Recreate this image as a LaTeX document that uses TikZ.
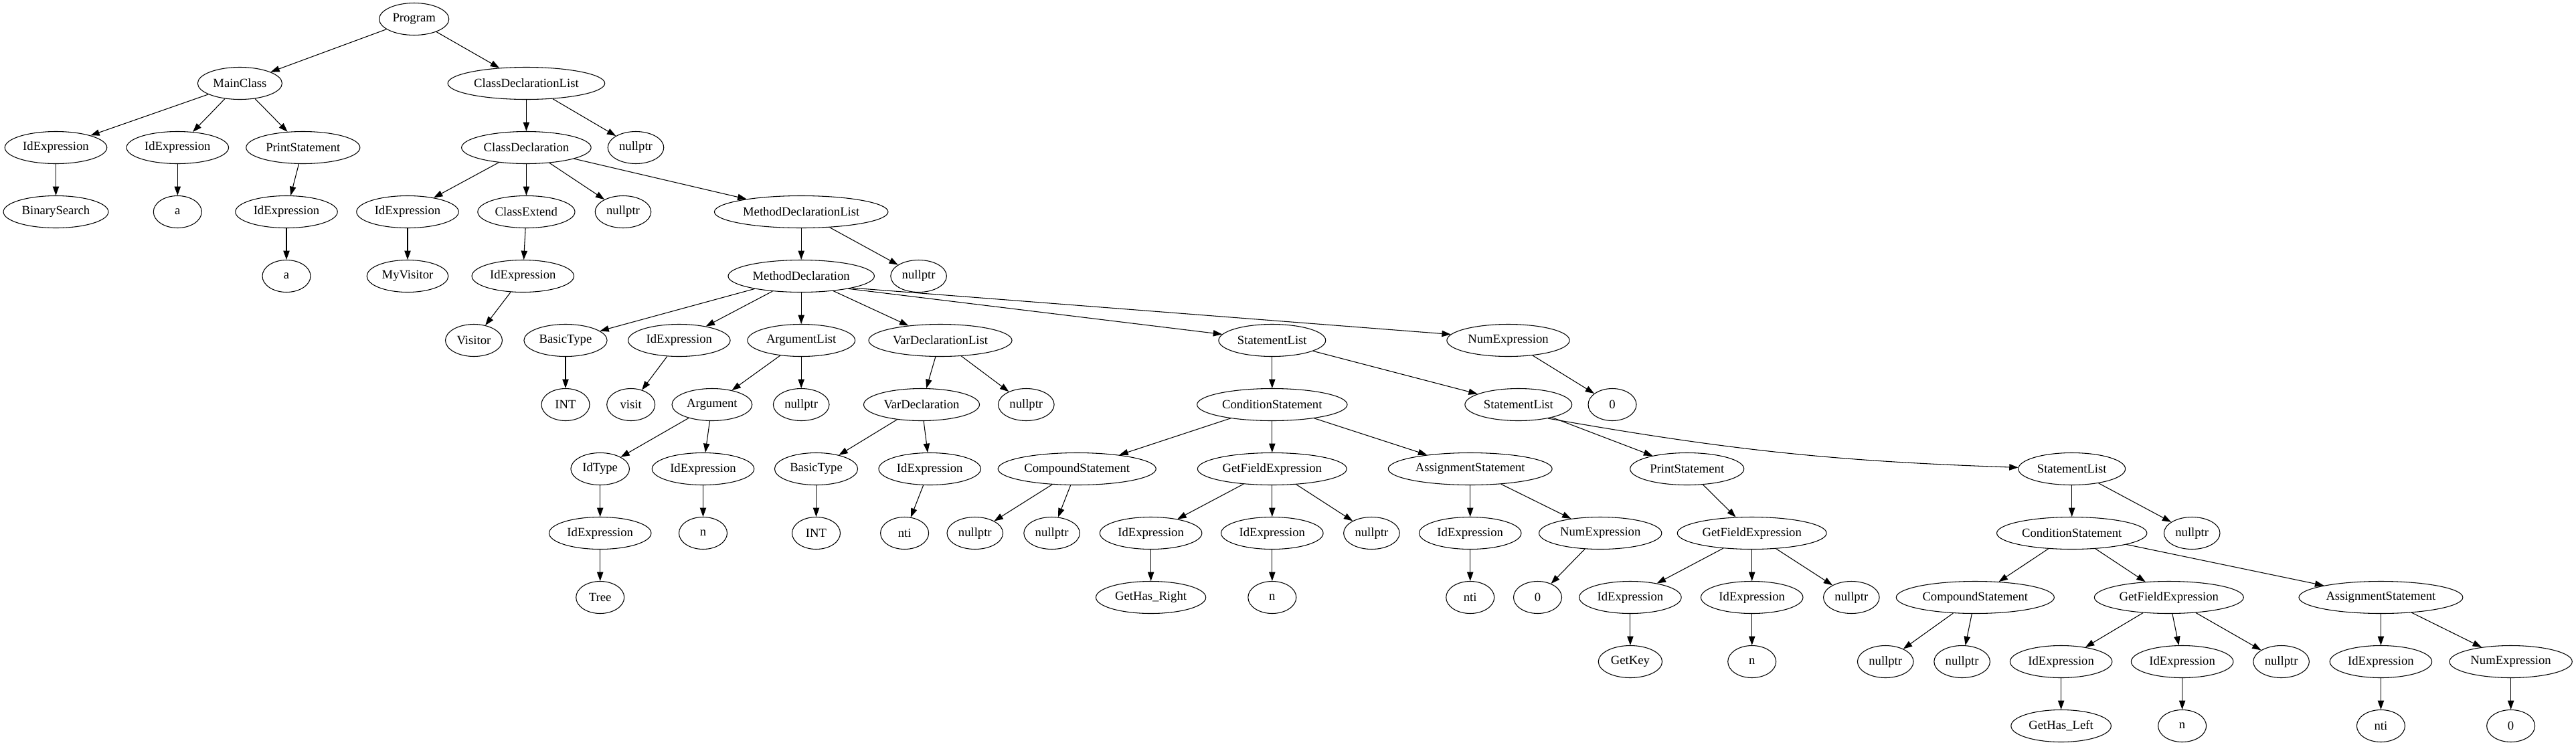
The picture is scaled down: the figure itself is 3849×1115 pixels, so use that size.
\documentclass[tikz,border=0pt]{standalone}
\usepackage{fontspec}
\setmainfont{Liberation Serif}
\usetikzlibrary{arrows.meta,shapes.geometric}

\begin{document}
\begin{tikzpicture}[x=0.75pt, y=-0.75pt, >={Triangle[length=10pt,width=7pt]},
  ast/.style={draw, ellipse, line width=0.8pt, inner xsep=3.5pt,
    minimum width=54pt, minimum height=36pt,
    font=\fontsize{14pt}{16pt}\selectfont},
  edge/.style={->, line width=0.8pt}]
  \useasboundingbox (0,0) rectangle (3849,1115);

  %% Row 0-1
  \node[ast] (prog)  at (618.7,28.5)  {Program};
  \node[ast] (mainc) at (358.4,124.5) {MainClass};
  \node[ast] (cdl)   at (786.4,124.5) {ClassDeclarationList};
  %% Row 2
  \node[ast] (mid1)   at (83.5,220.5)  {IdExpression};
  \node[ast] (mid2)   at (265.3,220.5) {IdExpression};
  \node[ast] (mprint) at (452.8,220.5) {PrintStatement};
  \node[ast] (cdecl)  at (786.4,220.5) {ClassDeclaration};
  \node[ast] (cnull)  at (950,220.5)   {nullptr};
  %% Row 3
  \node[ast] (mbin)   at (83.5,316.5)   {BinarySearch};
  \node[ast] (ma)     at (265.3,316.5)  {a};
  \node[ast] (mpid)   at (428,316.5)    {IdExpression};
  \node[ast] (cid)    at (609,316.5)    {IdExpression};
  \node[ast] (cext)   at (786.4,316.5)  {ClassExtend};
  \node[ast] (cdnull) at (931,316.5)    {nullptr};
  \node[ast] (mdl)    at (1197.2,316.5) {MethodDeclarationList};
  %% Row 4
  \node[ast] (mpa)     at (428,412.5)    {a};
  \node[ast] (cvis)    at (609,412.5)    {MyVisitor};
  \node[ast] (cextid)  at (781.3,412.5)  {IdExpression};
  \node[ast] (md)      at (1197.2,412.5) {MethodDeclaration};
  \node[ast] (mdlnull) at (1372.6,412.5) {nullptr};
  %% Row 5
  \node[ast] (cextv) at (708,508.5)    {Visitor};
  \node[ast] (rtype) at (845,508.5)    {BasicType};
  \node[ast] (mname) at (1014.8,508.5) {IdExpression};
  \node[ast] (args)  at (1197.2,508.5) {ArgumentList};
  \node[ast] (vars)  at (1405,508.5)   {VarDeclarationList};
  \node[ast] (sl1)   at (1900.8,508.5) {StatementList};
  \node[ast] (ret)   at (2253.5,508.5) {NumExpression};
  %% Row 6
  \node[ast] (rint)    at (845,604.5)    {INT};
  \node[ast] (mvisit)  at (942.7,604.5)  {visit};
  \node[ast] (arg)     at (1063.9,604.5) {Argument};
  \node[ast] (argnull) at (1197.2,604.5) {nullptr};
  \node[ast] (vdecl)   at (1377,604.5)   {VarDeclaration};
  \node[ast] (varnull) at (1533.3,604.5) {nullptr};
  \node[ast] (cond1)   at (1900.8,604.5) {ConditionStatement};
  \node[ast] (sl2)     at (2268.8,604.5) {StatementList};
  \node[ast] (retz)    at (2409,604.5)   {0};
  %% Row 7
  \node[ast] (idtype) at (896.7,700.5)  {IdType};
  \node[ast] (argid)  at (1050.5,700.5) {IdExpression};
  \node[ast] (vtype)  at (1219.5,700.5) {BasicType};
  \node[ast] (vid)    at (1389.2,700.5) {IdExpression};
  \node[ast] (comp1)  at (1609.2,700.5) {CompoundStatement};
  \node[ast] (gf1)    at (1900.8,700.5) {GetFieldExpression};
  \node[ast] (asg1)   at (2196.7,700.5) {AssignmentStatement};
  \node[ast] (print2) at (2520.7,700.5) {PrintStatement};
  \node[ast] (sl3)    at (3095.7,700.5) {StatementList};
  %% Row 8
  \node[ast] (idtid)   at (896.7,796.5)  {IdExpression};
  \node[ast] (argn)    at (1050.5,796.5) {n};
  \node[ast] (vint)    at (1219.5,796.5) {INT};
  \node[ast] (vnti)    at (1351.6,796.5) {nti};
  \node[ast] (c1nulla) at (1456.8,796.5) {nullptr};
  \node[ast] (c1nullb) at (1571.6,796.5) {nullptr};
  \node[ast] (gf1ida)  at (1719.6,796.5) {IdExpression};
  \node[ast] (gf1idb)  at (1900.8,796.5) {IdExpression};
  \node[ast] (gf1null) at (2049.4,796.5) {nullptr};
  \node[ast] (asg1id)  at (2196.7,796.5) {IdExpression};
  \node[ast] (asg1num) at (2391.2,796.5) {NumExpression};
  \node[ast] (gf2)     at (2617.7,796.5) {GetFieldExpression};
  \node[ast] (cond2)   at (3095.7,796.5) {ConditionStatement};
  \node[ast] (sl3null) at (3275.2,796.5) {nullptr};
  %% Row 9
  \node[ast] (tree)    at (896.7,892.5)  {Tree};
  \node[ast] (gf1r)    at (1719.6,892.5) {GetHas\_Right};
  \node[ast] (gf1n)    at (1900.8,892.5) {n};
  \node[ast] (asg1nti) at (2196.7,892.5) {nti};
  \node[ast] (asg1z)   at (2297.5,892.5) {0};
  \node[ast] (gf2ida)  at (2435.9,892.5) {IdExpression};
  \node[ast] (gf2idb)  at (2617.7,892.5) {IdExpression};
  \node[ast] (gf2null) at (2766.3,892.5) {nullptr};
  \node[ast] (comp2)   at (2951.3,892.5) {CompoundStatement};
  \node[ast] (gf3)     at (3240.8,892.5) {GetFieldExpression};
  \node[ast] (asg2)    at (3557.4,892.5) {AssignmentStatement};
  %% Row 10
  \node[ast] (gf2key)  at (2435.9,988.5) {GetKey};
  \node[ast] (gf2n)    at (2617.7,988.5) {n};
  \node[ast] (c2nulla) at (2817.2,988.5) {nullptr};
  \node[ast] (c2nullb) at (2931.6,988.5) {nullptr};
  \node[ast] (gf3ida)  at (3079.6,988.5) {IdExpression};
  \node[ast] (gf3idb)  at (3260.6,988.5) {IdExpression};
  \node[ast] (gf3null) at (3408.6,988.5) {nullptr};
  \node[ast] (asg2id)  at (3557.4,988.5) {IdExpression};
  \node[ast] (asg2num) at (3751.6,988.5) {NumExpression};
  %% Row 11
  \node[ast] (gf3l)    at (3079.6,1084.5) {GetHas\_Left};
  \node[ast] (gf3n)    at (3260.6,1084.5) {n};
  \node[ast] (asg2nti) at (3557.4,1084.5) {nti};
  \node[ast] (asg2z)   at (3751.6,1084.5) {0};

  %% Edges
  \foreach \a/\b in {prog/mainc, prog/cdl,
    mainc/mid1, mainc/mid2, mainc/mprint, mid1/mbin, mid2/ma,
    mprint/mpid, mpid/mpa,
    cdl/cdecl, cdl/cnull, cdecl/cid, cdecl/cext, cdecl/cdnull, cdecl/mdl,
    cid/cvis, cext/cextid, cextid/cextv, mdl/md, mdl/mdlnull,
    md/rtype, md/mname, md/args, md/vars,
    rtype/rint, mname/mvisit, args/arg, args/argnull,
    arg/idtype, arg/argid, idtype/idtid, idtid/tree, argid/argn,
    vars/vdecl, vars/varnull, vdecl/vtype, vdecl/vid, vtype/vint, vid/vnti,
    sl1/cond1, sl1/sl2, ret/retz,
    cond1/comp1, cond1/gf1, cond1/asg1, comp1/c1nulla, comp1/c1nullb,
    gf1/gf1ida, gf1/gf1idb, gf1/gf1null, gf1ida/gf1r, gf1idb/gf1n,
    asg1/asg1id, asg1/asg1num, asg1id/asg1nti, asg1num/asg1z,
    sl2/print2, print2/gf2, gf2/gf2ida, gf2/gf2idb, gf2/gf2null,
    gf2ida/gf2key, gf2idb/gf2n,
    sl3/cond2, sl3/sl3null, cond2/comp2, cond2/gf3, cond2/asg2,
    comp2/c2nulla, comp2/c2nullb, gf3/gf3ida, gf3/gf3idb, gf3/gf3null,
    gf3ida/gf3l, gf3idb/gf3n, asg2/asg2id, asg2/asg2num,
    asg2id/asg2nti, asg2num/asg2z}
    \draw[edge] (\a) -- (\b);
  %% long edges leaving the right side of a node
  \draw[edge] (md.-15) -- (sl1);
  \draw[edge] (md.-13) -- (ret.174);
  \draw[edge] (sl2.-25) to[bend right=4] (sl3);
\end{tikzpicture}
\end{document}
